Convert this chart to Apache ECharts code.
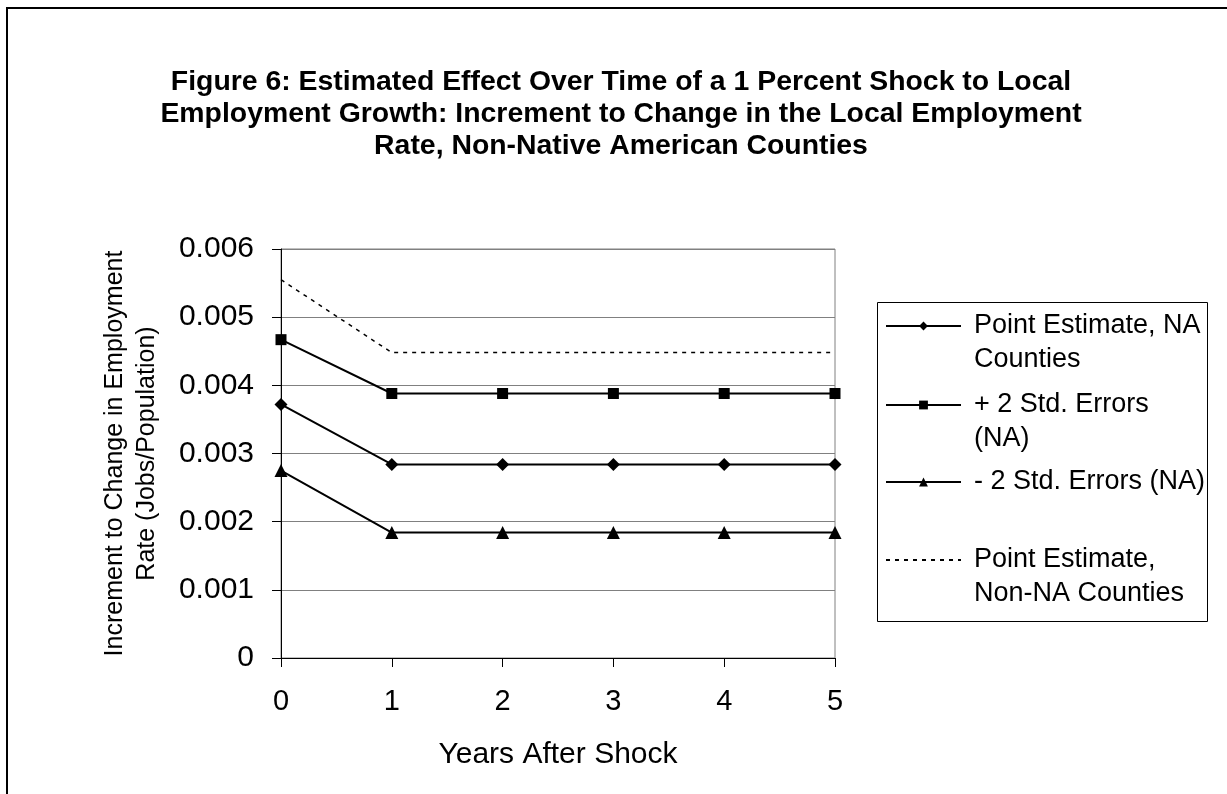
<!DOCTYPE html>
<html>
<head>
<meta charset="utf-8">
<script src="https://cdn.jsdelivr.net/npm/echarts@6/dist/echarts.min.js"></script>
<style>
html,body{margin:0;padding:0;background:#fff;}
#chart{width:1227px;height:794px;}
</style>
</head>
<body>
<div id="chart"></div>
<script>
// ---- data ----
var years = [0, 1, 2, 3, 4, 5];
var pointNA   = [0.00372, 0.00284, 0.00284, 0.00284, 0.00284, 0.00284];
var plus2SE   = [0.00467, 0.00388, 0.00388, 0.00388, 0.00388, 0.00388];
var minus2SE  = [0.00275, 0.00184, 0.00184, 0.00184, 0.00184, 0.00184];
var pointNonNA= [0.00555, 0.00448, 0.00448, 0.00448, 0.00448, 0.00448];
var yTicks = [0, 0.001, 0.002, 0.003, 0.004, 0.005, 0.006];
var xTicks = [0, 1, 2, 3, 4, 5];
var seriesNames = ['Point Estimate, NA Counties', '+ 2 Std. Errors (NA)', '- 2 Std. Errors (NA)', 'Point Estimate, Non-NA Counties'];
var legendTexts = ['Point Estimate, NA\nCounties', '+ 2 Std. Errors\n(NA)', '- 2 Std. Errors (NA)', 'Point Estimate,\nNon-NA Counties'];
var titleText = 'Figure 6: Estimated Effect Over Time of a 1 Percent Shock to Local\nEmployment Growth: Increment to Change in the Local Employment\nRate, Non-Native American Counties';

function pairs(vals){ return years.map(function(x,i){ return [x, vals[i]]; }); }

var FONT = '"Liberation Sans", Arial, sans-serif';
var chart = echarts.init(document.getElementById('chart'), null, {renderer:'canvas'});

function legendItem(idx, top, twoLine, hideSymbol){
  var l = {
    show: true,
    orient: 'vertical',
    left: 885,
    top: top,
    padding: 0,
    itemWidth: 75,
    itemHeight: 11,
    data: [seriesNames[idx]],
    formatter: function(){ return twoLine ? '\u00a0\n' + legendTexts[idx] : legendTexts[idx]; },
    selectedMode: false,
    textStyle: {
      fontFamily: FONT, fontSize: 27, color: '#000', lineHeight: 34,
      padding: [0, 0, 0, 8]
    }
  };
  if (hideSymbol) { l.itemStyle = { opacity: 0 }; }
  return l;
}

var option = {
  animation: false,
  backgroundColor: '#fff',
  title: {
    text: titleText,
    left: 621,
    textAlign: 'center',
    top: 66,
    padding: 0,
    textStyle: { fontFamily: FONT, fontWeight: 'bold', fontSize: 28.4, lineHeight: 32, color: '#000' }
  },
  graphic: [
    { type: 'polyline', shape: { points: [[7, 794], [7, 8], [1227, 8]] }, style: { stroke: '#000', lineWidth: 2, fill: null }, silent: true },
    { type: 'rect', shape: { x: 877.5, y: 302.5, width: 330, height: 319 }, style: { stroke: '#000', lineWidth: 1, fill: null }, silent: true, z: 0 }
  ],
  legend: [
    legendItem(0, 275, true),
    legendItem(1, 354, true),
    legendItem(2, 465, false),
    legendItem(3, 509, true, true)
  ],
  grid: {
    left: 281, right: 392, top: 249, bottom: 136,
    show: true, borderColor: '#808080', borderWidth: 1, backgroundColor: 'transparent'
  },
  xAxis: {
    type: 'value', min: 0, max: 5, interval: 1,
    name: 'Years After Shock', nameLocation: 'middle', nameGap: 80,
    nameTextStyle: { fontFamily: FONT, fontSize: 30, color: '#000', lineHeight: 34 },
    axisLine: { show: true, lineStyle: { color: '#000', width: 1 } },
    axisTick: { show: true, inside: false, length: 9, lineStyle: { color: '#000' } },
    axisLabel: { fontFamily: FONT, fontSize: 29, color: '#000', margin: 29, lineHeight: 30,
      formatter: function(v){ return xTicks.indexOf(v) >= 0 ? String(v) : ''; } },
    splitLine: { show: false }
  },
  yAxis: {
    type: 'value', min: 0, max: 0.006, interval: 0.001,
    name: 'Increment to Change in Employment\nRate (Jobs/Population)', nameLocation: 'middle', nameGap: 118,
    nameTextStyle: { fontFamily: FONT, fontSize: 25, color: '#000', lineHeight: 32 },
    axisLine: { show: true, lineStyle: { color: '#000', width: 1 } },
    axisTick: { show: true, inside: false, length: 9, lineStyle: { color: '#000' } },
    axisLabel: { fontFamily: FONT, fontSize: 30, color: '#000', margin: 27,
      formatter: function(v){
        var best = yTicks.reduce(function(a,b){ return Math.abs(b-v) < Math.abs(a-v) ? b : a; });
        return best === 0 ? '0' : best.toFixed(3);
      } },
    splitLine: { show: true, lineStyle: { color: '#808080', width: 1 } }
  },
  series: [
    { name: seriesNames[0], type: 'line', data: pairs(pointNA), symbol: 'diamond', symbolSize: 13,
      lineStyle: { color: '#000', width: 2 }, itemStyle: { color: '#000' }, z: 5 },
    { name: seriesNames[1], type: 'line', data: pairs(plus2SE), symbol: 'rect', symbolSize: 11,
      lineStyle: { color: '#000', width: 2 }, itemStyle: { color: '#000' }, z: 5 },
    { name: seriesNames[2], type: 'line', data: pairs(minus2SE), symbol: 'triangle', symbolSize: 13,
      lineStyle: { color: '#000', width: 2 }, itemStyle: { color: '#000' }, z: 5 },
    { name: seriesNames[3], type: 'line', data: pairs(pointNonNA), symbol: 'none', showSymbol: false,
      lineStyle: { color: '#000', width: 1.5, type: [4, 5] }, itemStyle: { color: '#000' }, z: 4 }
  ]
};
chart.setOption(option);
</script>
</body>
</html>
